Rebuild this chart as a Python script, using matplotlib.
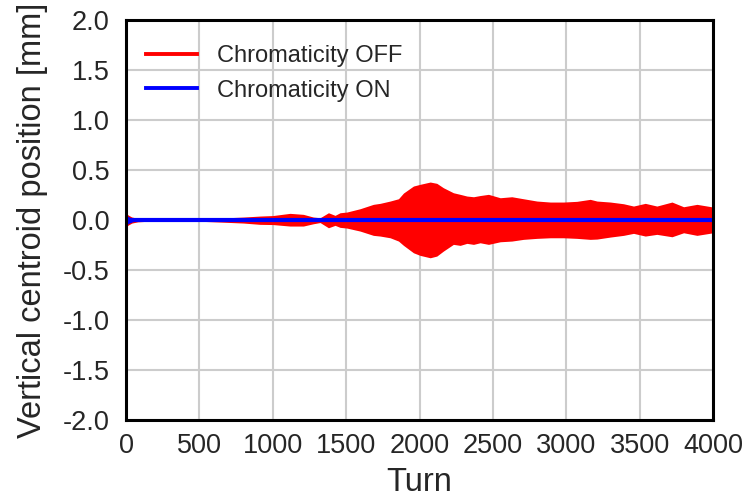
import matplotlib
matplotlib.use("Agg")
import matplotlib.pyplot as plt
from matplotlib.lines import Line2D

plt.rcParams['font.family'] = ['Liberation Sans', 'DejaVu Sans']

# Envelope of the "Chromaticity OFF" oscillation (turn, upper, lower) in mm
off_turns = [0, 15, 40, 80, 150, 300, 500, 640, 800, 913, 1000, 1117, 1208, 1276, 1322, 1379,
             1424, 1458, 1504, 1594, 1685, 1731, 1799, 1856, 1890, 1958, 2003, 2072, 2117,
             2162, 2230, 2276, 2322, 2367, 2412, 2469, 2549, 2628, 2707, 2799, 2890, 2980,
             3071, 3162, 3208, 3299, 3389, 3457, 3537, 3616, 3719, 3798, 3889, 4000]
off_upper = [0.07, 0.05, 0.03, 0.018, 0.012, 0.01, 0.012, 0.02, 0.03, 0.04, 0.045, 0.067,
             0.057, 0.03, 0.023, 0.073, 0.047, 0.073, 0.08, 0.113, 0.157, 0.167, 0.19, 0.213,
             0.27, 0.34, 0.357, 0.38, 0.367, 0.323, 0.273, 0.257, 0.24, 0.233, 0.245, 0.257,
             0.223, 0.233, 0.213, 0.19, 0.18, 0.18, 0.187, 0.207, 0.19, 0.18, 0.163, 0.14,
             0.167, 0.14, 0.18, 0.133, 0.157, 0.13]
off_lower = [-0.07, -0.05, -0.03, -0.018, -0.012, -0.01, -0.012, -0.02, -0.03, -0.043, -0.045,
             -0.06, -0.06, -0.037, -0.025, -0.077, -0.053, -0.073, -0.08, -0.11, -0.153,
             -0.16, -0.177, -0.21, -0.253, -0.327, -0.353, -0.377, -0.36, -0.31, -0.243,
             -0.253, -0.233, -0.243, -0.227, -0.243, -0.217, -0.21, -0.193, -0.183, -0.177,
             -0.177, -0.183, -0.193, -0.19, -0.17, -0.153, -0.133, -0.16, -0.143, -0.167,
             -0.127, -0.153, -0.127]

# Envelope of the "Chromaticity ON" signal
on_turns = [0, 15, 40, 80, 4000]
on_upper = [0.055, 0.035, 0.02, 0.0, 0.0]
on_lower = [-0.055, -0.035, -0.02, 0.0, 0.0]

xticks = [0, 500, 1000, 1500, 2000, 2500, 3000, 3500, 4000]
yticks = [-2.0, -1.5, -1.0, -0.5, 0.0, 0.5, 1.0, 1.5, 2.0]

fig = plt.figure(figsize=(7.5, 4.99), dpi=100)
ax = fig.add_axes([0.168, 0.158, 0.783, 0.802])

ax.fill_between(off_turns, off_lower, off_upper, color='red', lw=0, zorder=2)
ax.fill_between(on_turns, on_lower, on_upper, color='blue', lw=0, zorder=3)
ax.plot([0, 4000], [0, 0], color='blue', lw=3, zorder=3)

ax.set_xlim(0, 4000)
ax.set_ylim(-2.0, 2.0)
ax.set_xticks(xticks)
ax.set_yticks(yticks)
ax.set_xticklabels([str(t) for t in xticks])
ax.set_yticklabels([f"{t:.1f}" for t in yticks])
ax.tick_params(length=0, labelsize=19.5, colors='#262626')
ax.tick_params(axis='x', pad=9)
ax.tick_params(axis='y', pad=12)
ax.grid(True, color='#cccccc', lw=1.5, zorder=0)
ax.set_axisbelow(True)
for s in ax.spines.values():
    s.set_color('black')
    s.set_linewidth(2.2)
    s.set_zorder(5)

ax.set_xlabel('Turn', fontsize=23.5, color='#262626', labelpad=6)
ax.set_ylabel('Vertical centroid position [mm]', fontsize=23.5, color='#262626', labelpad=10)

handles = [Line2D([], [], color='red', lw=2.8), Line2D([], [], color='blue', lw=2.8)]
leg = ax.legend(handles, ['Chromaticity OFF', 'Chromaticity ON'], loc='upper left',
                bbox_to_anchor=(0, 0.9875), frameon=False, fontsize=17, handlelength=2.16,
                borderaxespad=0.45, labelspacing=0.53, handletextpad=0.85)
for t in leg.get_texts():
    t.set_color('#262626')

fig.savefig('out.png', dpi=100)
